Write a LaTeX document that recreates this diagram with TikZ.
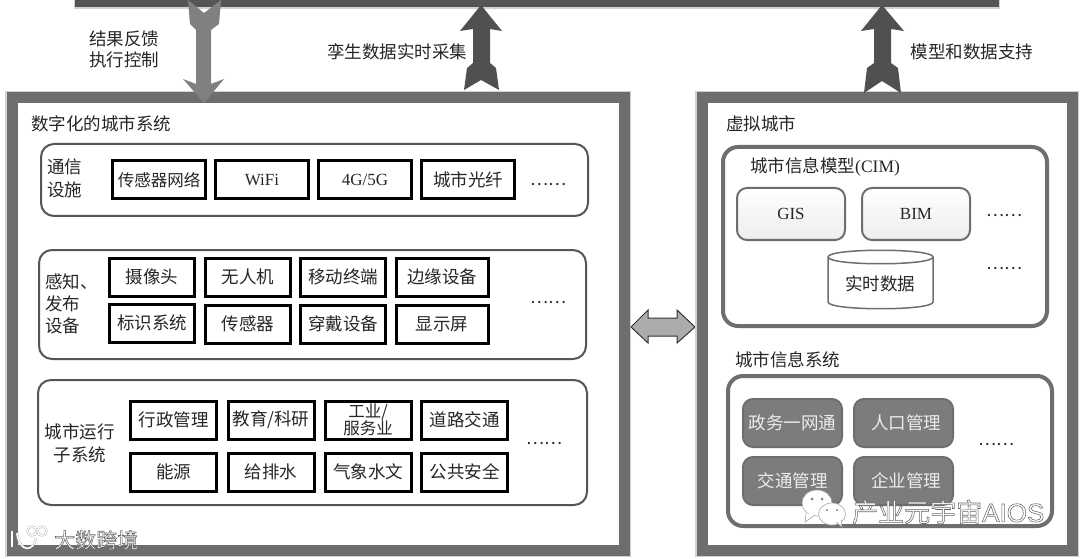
\documentclass[tikz,border=0pt]{standalone}
\usepackage{fontspec}
\usepackage{tikz}
\setmainfont{Noto Sans CJK SC}
\newfontfamily\latinfont{Liberation Serif}
\newfontfamily\markfont{Liberation Sans}
\definecolor{framegray}{HTML}{6E6E6E}
\definecolor{bargray}{HTML}{555555}
\definecolor{upgray}{HTML}{505050}
\definecolor{downgray}{HTML}{808080}
\definecolor{inkgray}{HTML}{262626}
\definecolor{cellgray}{HTML}{7C7C7C}
\newcommand{\outlined}[1]{\special{pdf:code 2 Tr 0.55 w 0.4 G 1 g}#1\special{pdf:code 0 Tr}}
\tikzset{
	label/.style={font=\fontsize{17.5}{21}\selectfont,text=inkgray,inner sep=0pt,align=center},
	titletext/.style={font=\fontsize{17.5}{23}\selectfont,text=inkgray,inner sep=0pt,align=left},
	framebox/.style={draw=framegray,line width=11pt,fill=white},
	frameedge/.style={draw=gray!35,line width=14pt},
	groupbox/.style={draw=bargray,line width=2pt,rounded corners=13pt},
	modelbox/.style={draw=framegray,line width=4pt,rounded corners=15pt},
	cellbox/.style={draw=black,line width=3pt,fill=white,minimum width=85pt,minimum height=38pt,inner sep=0pt,font=\fontsize{17.5}{18}\selectfont,text=inkgray,align=center},
	softbox/.style={draw=framegray,line width=2pt,rounded corners=10pt,top color=white,bottom color=gray!14,minimum width=108pt,minimum height=52pt,inner sep=0pt,font=\latinfont\fontsize{17}{20}\selectfont,text=inkgray},
	darkbox/.style={draw=framegray,line width=2pt,rounded corners=10pt,fill=cellgray,minimum width=99pt,minimum height=48pt,inner sep=0pt,font=\fontsize{17.5}{20}\selectfont,text=gray!15},
	dots/.style={font=\fontsize{17}{20}\selectfont,text=inkgray,inner sep=0pt},
	bubble/.style={fill=white,draw=gray!70,line width=0.6pt},
	logomark/.style={draw=gray!70,double=white,double distance=1.4pt,line width=0.4pt},
}
\begin{document}
\begin{tikzpicture}[x=1pt,y=-1pt]
	\useasboundingbox (0,0) rectangle (1080,559);
	\fill[gray!35] (74,-2) rectangle (1000,9);
	\fill[bargray] (75,-2) rectangle (999,7);
	\node[label] (feedback) at (124,39) {结果反馈};
	\node[label] (control) at (124,60) {执行控制};
	\node[label] (collect) at (397,52) {孪生数据实时采集};
	\node[label] (support) at (972,52) {模型和数据支持};
	% left frame
	\draw[frameedge] (12,98) rectangle (624,550);
	\draw[framebox] (12,98) rectangle (624,550);
	\node[titletext,anchor=west] (citytitle) at (31,124) {数字化的城市系统};
	\draw[groupbox] (41,144) rectangle (588,216);
	\node[titletext,anchor=west] (commlabel) at (47,178.5) {通信\\设施};
	\node[cellbox,minimum width=93pt,font=\fontsize{16.5}{18}\selectfont] (sensornet) at (159,180) {传感器网络};
	\node[cellbox,minimum width=93pt,font=\latinfont\fontsize{17}{18}\selectfont] (wifi) at (262,180) {WiFi};
	\node[cellbox,minimum width=93pt,font=\latinfont\fontsize{17}{18}\selectfont] (cellular) at (365,180) {4G/5G};
	\node[cellbox,minimum width=93pt] (fiber) at (468,180) {城市光纤};
	\node[dots] (commdots) at (548,185) {……};
	\draw[groupbox] (39,250) rectangle (586,359);
	\node[titletext,anchor=west,font=\fontsize{17.5}{22}\selectfont] (senselabel) at (45,304) {感知、\\发布\\设备};
	\node[cellbox] (camera) at (152,277) {摄像头};
	\node[cellbox] (drone) at (248,277) {无人机};
	\node[cellbox] (mobile) at (343,277) {移动终端};
	\node[cellbox,minimum width=92pt] (edge) at (442,277) {边缘设备};
	\node[cellbox] (marker) at (152,323) {标识系统};
	\node[cellbox] (sensor) at (248,324) {传感器};
	\node[cellbox] (wearable) at (343,324) {穿戴设备};
	\node[cellbox,minimum width=92pt] (display) at (442,324) {显示屏};
	\node[dots] (sensedots) at (548,303) {……};
	\draw[groupbox] (38,380) rectangle (587,505);
	\node[titletext,align=center] (runlabel) at (80,443) {城市运行\\子系统};
	\node[cellbox,minimum width=86pt] (admin) at (173.5,420) {行政管理};
	\node[cellbox,minimum width=86pt] (edu) at (271,420) {教育/科研};
	\node[cellbox,minimum width=86pt,font=\fontsize{16.5}{17}\selectfont] (industry) at (368,420) {工业/\\服务业};
	\node[cellbox,minimum width=86pt] (road) at (464.5,420) {道路交通};
	\node[cellbox,minimum width=86pt] (energy) at (173.5,472) {能源};
	\node[cellbox,minimum width=86pt] (water) at (271,472) {给排水};
	\node[cellbox,minimum width=86pt] (weather) at (368,472) {气象水文};
	\node[cellbox,minimum width=86pt] (safety) at (464.5,472) {公共安全};
	\node[dots] (rundots) at (544,444) {……};
	% double arrow between the frames
	\draw[fill=gray!65,draw=black!80,line width=1pt] (631,327) -- (648,310) -- (648,318) -- (677,318) -- (677,310) -- (695,327) -- (677,343) -- (677,336) -- (648,336) -- (648,343) -- cycle;
	% right frame
	\draw[frameedge] (702,98) rectangle (1072,550);
	\draw[framebox] (702,98) rectangle (1072,550);
	\node[titletext,anchor=west] (virtualtitle) at (726,124) {虚拟城市};
	\draw[modelbox] (723,147) rectangle (1047,326);
	\node[titletext,anchor=west] (cimtitle) at (750,167) {城市信息模型{\latinfont (CIM)}};
	\node[softbox] (gis) at (791,214) {GIS\hspace{8pt}};
	\node[softbox] (bim) at (916,214) {BIM\hspace{6pt}};
	\node[dots] (cimdots) at (1004,216) {……};
	\draw[draw=framegray,line width=1.5pt,fill=white] (828,257) .. controls (828,248) and (933,248) .. (933,257) -- (933,302) .. controls (933,311) and (828,311) .. (828,302) -- cycle;
	\draw[draw=framegray,line width=1.5pt] (828,257) .. controls (828,266) and (933,266) .. (933,257);
	\node[label] (realtime) at (880,284) {实时数据};
	\node[dots] (datadots) at (1004,269) {……};
	\node[titletext,anchor=west] (systitle) at (735,360) {城市信息系统};
	\draw[modelbox] (728,376) rectangle (1052,526);
	\node[darkbox] (gov) at (792.5,423) {政务一网通};
	\node[darkbox] (population) at (903.5,423) {\hspace*{5pt}人口管理};
	\node[darkbox] (traffic) at (792.5,481) {交通管理};
	\node[darkbox] (enterprise) at (903.5,481) {\hspace*{5pt}企业管理};
	\node[dots] (sysdots) at (996,445) {……};
	% arrows between the layers
	\fill[downgray] (188,0) -- (204,13) -- (221,0) -- (219,24) -- (211,30) -- (211,84) -- (224,79) -- (204,103) -- (183,79) -- (196,84) -- (196,30) -- (190,24) -- cycle;
	\fill[upgray] (481,5) -- (502,31) -- (490,29) -- (490,63) -- (496,68) -- (499,90) -- (481,80) -- (464,90) -- (467,68) -- (473,63) -- (473,29) -- (460,31) -- cycle;
	\fill[upgray] (882,5) -- (904,31) -- (891,29) -- (891,63) -- (898,68) -- (901,93) -- (882,81) -- (864,93) -- (867,68) -- (874,63) -- (874,29) -- (861,31) -- cycle;
	% marks printed over the picture
	\draw[bubble] (817,503) ellipse (15 and 13);
	\draw[bubble] (806,513) -- (805,522) -- (815,515);
	\draw[bubble] (832,514) ellipse (13.5 and 11);
	\draw[bubble] (836,522) -- (842,527) -- (841,520);
	\fill[gray] (812,499) circle (1.5) (822,499) circle (1.5) (827,510) circle (1.2) (837,510) circle (1.2);
	\node[inner sep=0pt,anchor=west,font=\fontsize{26}{28}\selectfont] (brand) at (852,512) {\outlined{产业元宇宙{\markfont AIOS}}};
	\node[inner sep=0pt,anchor=west,font=\fontsize{21}{24}\selectfont] (mark) at (54,540) {\outlined{大数跨境}};
	\draw[logomark] (12,531) -- (12,547);
	\draw[logomark] (17,533) .. controls (19,553) and (34,552) .. (36,538);
	\draw[logomark] (32,531) circle (4.5);
	\draw[logomark] (42,531) circle (4.5);
\end{tikzpicture}
\end{document}
